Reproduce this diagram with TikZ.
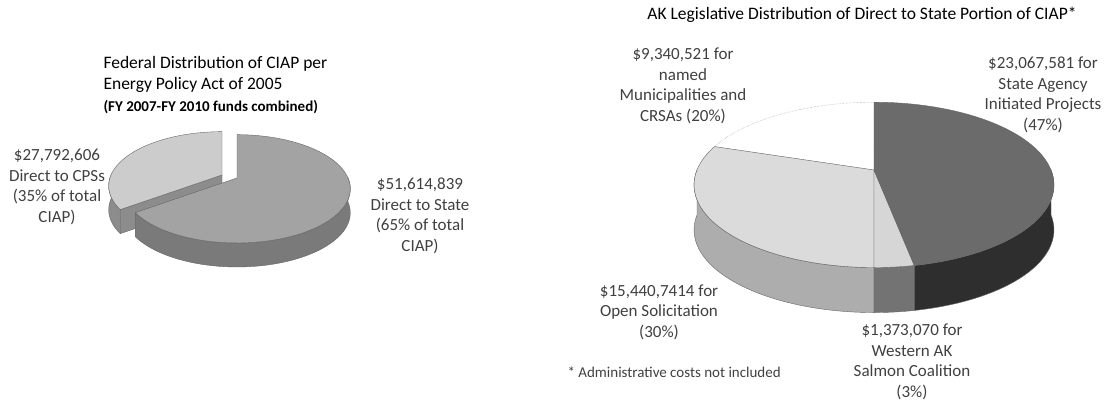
\documentclass[tikz,border=0pt]{standalone}
\usepackage{fontspec}
\setmainfont{Carlito}
\tikzset{
  charttitle/.style = {align=left, text=black, font=\fontsize{17.5}{21.5}\selectfont},
  piecelabel/.style = {align=center, text=black!75, font=\fontsize{17}{20.5}\selectfont},
  remark/.style     = {text=black!75, font=\fontsize{15}{18}\selectfont},
  rimline/.style    = {draw=black!60, line width=0.4pt},
  cpstop/.style     = {rimline, fill=black!20},
  cpsside/.style    = {rimline, fill=black!45},
  statetop/.style   = {rimline, fill=black!36},
  stateside/.style  = {rimline, fill=black!52},
  agencytop/.style  = {rimline, fill=black!58},
  agencyside/.style = {rimline, fill=black!82},
  salmontop/.style  = {rimline, fill=black!16},
  salmonside/.style = {rimline, fill=black!55},
  opentop/.style    = {rimline, fill=black!14},
  openside/.style   = {rimline, fill=black!32},
  munictop/.style   = {draw=black!45, densely dotted, fill=white},
}
% pie rim seen in perspective: angle (and drop below the top face)
\pgfmathdeclarefunction{rimx}{1}{\pgfmathparse{\pcx+\pa*cos(#1)/(1+\pk*sin(#1))}}
\pgfmathdeclarefunction{rimy}{2}{\pgfmathparse{\pcy-#2+\pb*sin(#1)/(1+\pk*sin(#1))}}

\begin{document}
\begin{tikzpicture}[x=1pt, y=1pt, samples=60]
  \useasboundingbox (0,0) rectangle (1104,402);

  % --- left pie, federal distribution ---
  \begin{scope}
    \def\pcx{237}\def\pcy{224}\def\pa{111}\def\pb{52}\def\pk{0.2}\def\pt{24}
    \begin{scope}[shift={(-15,3)}]
      \filldraw[cpsside] plot[domain=180:216] ({rimx(\x)},{rimy(\x,0)})
                      -- plot[domain=216:180] ({rimx(\x)},{rimy(\x,\pt)}) -- cycle;
      \filldraw[cpsside] (\pcx,\pcy) -- ({rimx(216)},{rimy(216,0)}) -- ({rimx(216)},{rimy(216,\pt)})
                      -- (\pcx,{\pcy-\pt}) -- cycle;
      \filldraw[cpstop]  (\pcx,\pcy) -- plot[domain=90:216] ({rimx(\x)},{rimy(\x,0)}) -- cycle;
    \end{scope}
    \filldraw[stateside] plot[domain=-144:0] ({rimx(\x)},{rimy(\x,0)})
                      -- plot[domain=0:-144] ({rimx(\x)},{rimy(\x,\pt)}) -- cycle;
    \filldraw[statetop]  (\pcx,\pcy) -- plot[domain=-144:90] ({rimx(\x)},{rimy(\x,0)}) -- cycle;
  \end{scope}

  \node[charttitle, anchor=west] (fedtitle) at (100,317)
       {Federal Distribution of CIAP per\\Energy Policy Act of 2005\\
        {\fontsize{15}{21}\selectfont\bfseries (FY 2007-FY 2010 funds combined)}};
  \node[piecelabel] (cpslbl)   at (57,215)  {\$27,792,606\\Direct to CPSs\\(35\% of total\\CIAP)};
  \node[piecelabel] (statelbl) at (420,186) {\$51,614,839\\Direct to State\\(65\% of total\\CIAP)};

  % --- right pie, AK legislative distribution ---
  \begin{scope}
    \def\pcx{874}\def\pcy{232}\def\pa{177}\def\pb{80}\def\pk{0.18}\def\pt{45}
    \filldraw[openside]   plot[domain=180:270] ({rimx(\x)},{rimy(\x,0)})
                       -- plot[domain=270:180] ({rimx(\x)},{rimy(\x,\pt)}) -- cycle;
    \filldraw[salmonside] plot[domain=270:280.8] ({rimx(\x)},{rimy(\x,0)})
                       -- plot[domain=280.8:270] ({rimx(\x)},{rimy(\x,\pt)}) -- cycle;
    \filldraw[agencyside] plot[domain=280.8:360] ({rimx(\x)},{rimy(\x,0)})
                       -- plot[domain=360:280.8] ({rimx(\x)},{rimy(\x,\pt)}) -- cycle;
    \filldraw[munictop]   (\pcx,\pcy) -- plot[domain=90:162] ({rimx(\x)},{rimy(\x,0)}) -- cycle;
    \filldraw[opentop]    (\pcx,\pcy) -- plot[domain=162:270] ({rimx(\x)},{rimy(\x,0)}) -- cycle;
    \filldraw[salmontop]  (\pcx,\pcy) -- plot[domain=270:280.8] ({rimx(\x)},{rimy(\x,0)}) -- cycle;
    \filldraw[agencytop]  (\pcx,\pcy) -- plot[domain=-79.2:90] ({rimx(\x)},{rimy(\x,0)}) -- cycle;
  \end{scope}

  \node[charttitle] (aktitle) at (862,387) {AK Legislative Distribution of Direct to State Portion of CIAP*};
  \node[piecelabel] (municlbl)  at (683,316)  {\$9,340,521 for\\named\\Municipalities and\\CRSAs (20\%)};
  \node[piecelabel] (agencylbl) at (1043,307) {\$23,067,581 for\\State Agency\\Initiated Projects\\(47\%)};
  \node[piecelabel] (openlbl)   at (659,90)   {\$15,440,7414 for\\Open Solicitation\\(30\%)};
  \node[piecelabel] (salmonlbl) at (912,40)   {\$1,373,070 for\\Western AK\\Salmon Coalition\\(3\%)};
  \node[remark, anchor=west] (footlbl) at (564,30) {* Administrative costs not included};
\end{tikzpicture}
\end{document}
